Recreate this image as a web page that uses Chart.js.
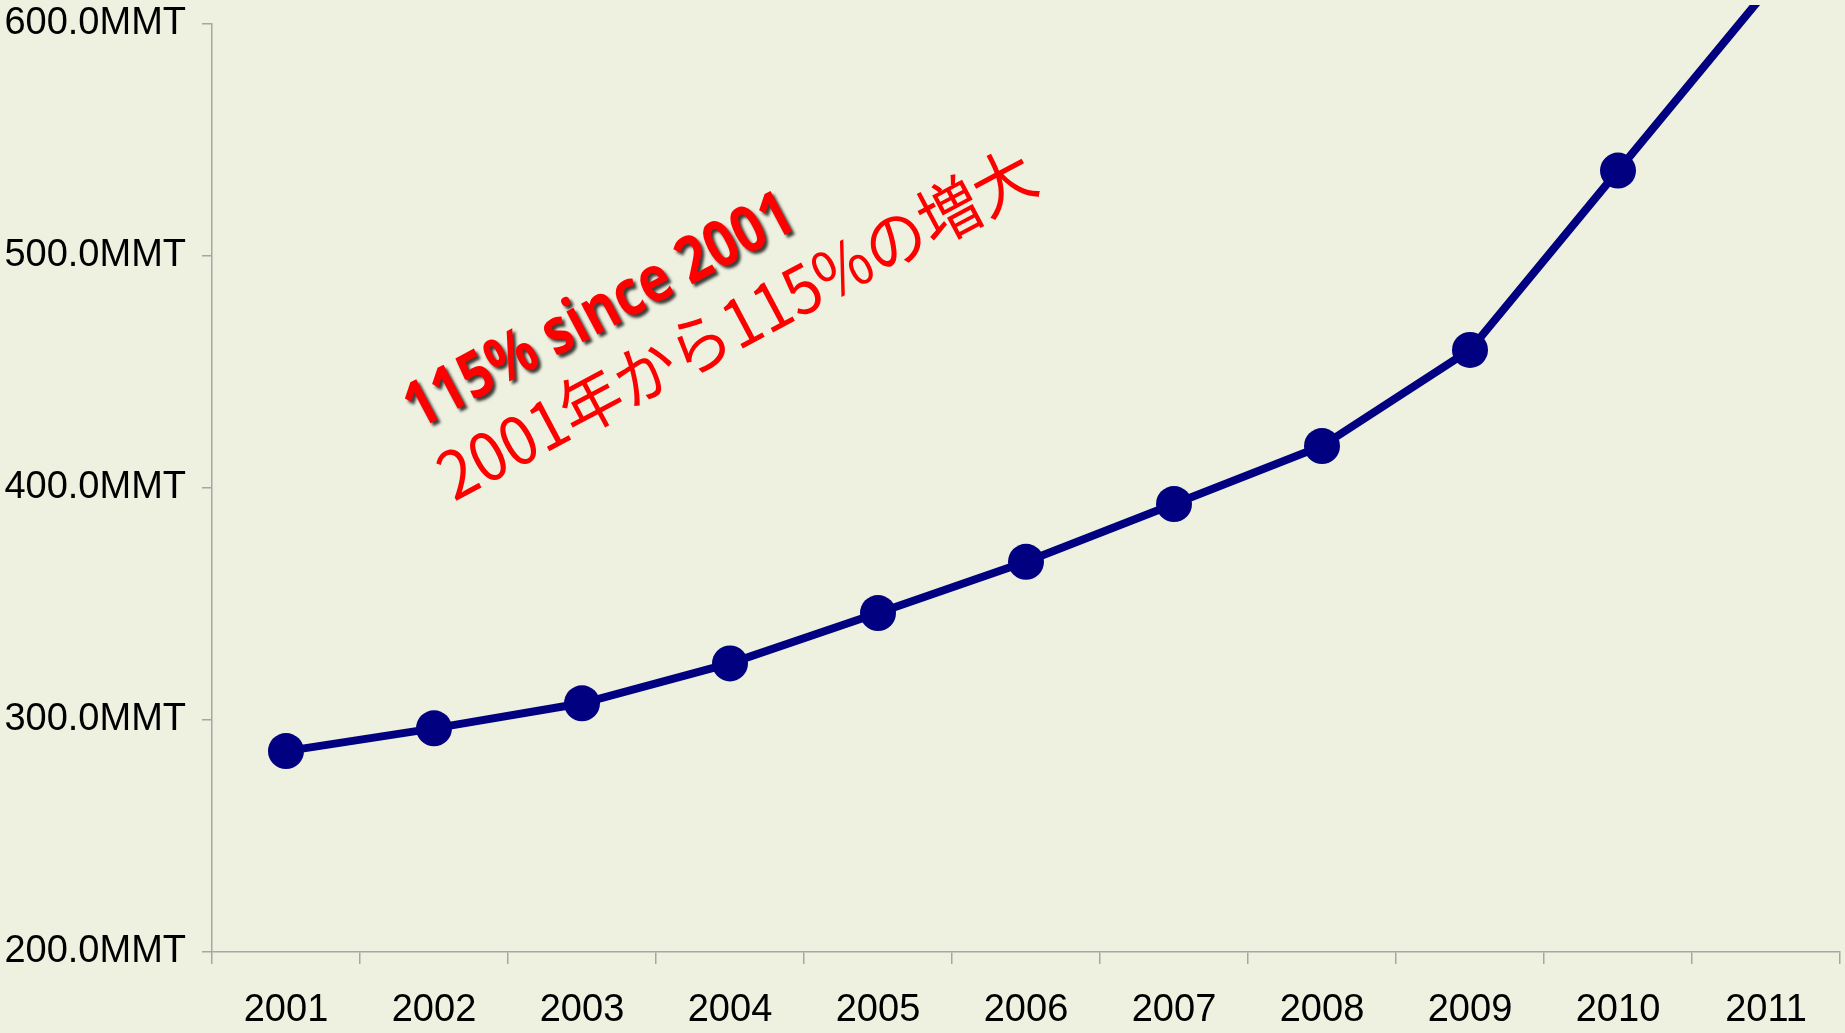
<!DOCTYPE html>
<html>
<head>
<meta charset="utf-8">
<script src="https://cdn.jsdelivr.net/npm/chart.js@4.4.1/dist/chart.umd.min.js"></script>
<style>
  html, body { margin: 0; padding: 0; background: #eef0e0; overflow: hidden; }
  #wrap { width: 1845px; height: 1033px; }
  canvas { display: block; }
</style>
</head>
<body>
<div id="wrap"><canvas id="myChart" width="1845" height="1033"></canvas></div>
<script>
// data
var years = ["2001", "2002", "2003", "2004", "2005", "2006", "2007", "2008", "2009", "2010", "2011"];
var production = [286.6, 296.4, 307.2, 324.4, 346.1, 368.2, 393.1, 418.1, 459.5, 536.8, 614];
var yTicks = [200, 300, 400, 500, 600];
var noteEn = "115% since 2001";
var noteJa = "2001年から115%の増大";

var axisGray = "#a6a6a6";
var tickFont = { family: "'Liberation Sans', Arial", size: 38 };

// background + the two rotated red notes
const notes = {
  id: "notes",
  beforeDraw(chart) {
    const ctx = chart.ctx;
    ctx.save();
    ctx.fillStyle = "#eef0e0";
    ctx.fillRect(0, 0, chart.width, chart.height);
    ctx.restore();
  },
  afterDraw(chart) {
    const ctx = chart.ctx;
    const ang = -28 * Math.PI / 180;

    ctx.save();
    ctx.translate(418, 430);
    ctx.rotate(ang);
    ctx.font = "bold 64px 'Open Sans', Lato, sans-serif";
    let w = ctx.measureText(noteEn).width;
    ctx.scale(432 / w, 1);
    ctx.shadowColor = "rgba(0,0,0,0.75)";
    ctx.shadowBlur = 3;
    ctx.shadowOffsetX = 3;
    ctx.shadowOffsetY = 3;
    ctx.fillStyle = "#ff0000";
    ctx.fillText(noteEn, 0, 0);
    ctx.restore();

    ctx.save();
    ctx.translate(454, 502);
    ctx.rotate(ang);
    ctx.font = "66px 'Noto Sans CJK JP', sans-serif";
    w = ctx.measureText(noteJa).width;
    ctx.scale(666 / w, 1);
    ctx.fillStyle = "#ff0000";
    ctx.fillText(noteJa, 0, 0);
    ctx.restore();
  }
};

new Chart(document.getElementById("myChart"), {
  type: "line",
  data: {
    labels: years,
    datasets: [
      {
        data: production,
        borderColor: "#000080",
        backgroundColor: "#000080",
        borderWidth: 8,
        tension: 0,
        pointRadius: (c) => (c.raw > 600 ? 0 : 18),
        pointHoverRadius: 18,
        pointBorderWidth: 0,
        clip: { left: 0, right: 0, bottom: 0, top: 19 },
      },
    ],
  },
  options: {
    responsive: false,
    animation: false,
    layout: { autoPadding: false, padding: { top: 24, right: 5, left: 0, bottom: 0 } },
    plugins: {
      legend: { display: false },
      tooltip: { enabled: false },
    },
    scales: {
      x: {
        offset: true,
        grid: {
          offset: true,
          drawOnChartArea: false,
          drawTicks: true,
          tickLength: 12,
          color: axisGray,
          lineWidth: 1.5,
        },
        border: { color: axisGray, width: 1.5 },
        ticks: { color: "#000", font: tickFont, padding: 24, maxRotation: 0 },
        afterFit(scale) {
          scale.height = 81;
          scale.paddingLeft = 0;
          scale.paddingRight = 0;
        },
      },
      y: {
        min: 200,
        max: 600,
        afterBuildTicks(scale) { scale.ticks = yTicks.map((v) => ({ value: v })); },
        grid: {
          drawOnChartArea: false,
          drawTicks: true,
          tickLength: 10,
          color: axisGray,
          lineWidth: 1.5,
        },
        border: { color: axisGray, width: 1.5 },
        ticks: {
          color: "#000",
          font: tickFont,
          padding: 16,
          callback: (v) => v.toFixed(1) + "MMT",
        },
        afterFit(scale) {
          scale.width = 212;
          scale.paddingTop = 0;
          scale.paddingBottom = 0;
        },
      },
    },
  },
  plugins: [notes],
});
</script>
</body>
</html>
